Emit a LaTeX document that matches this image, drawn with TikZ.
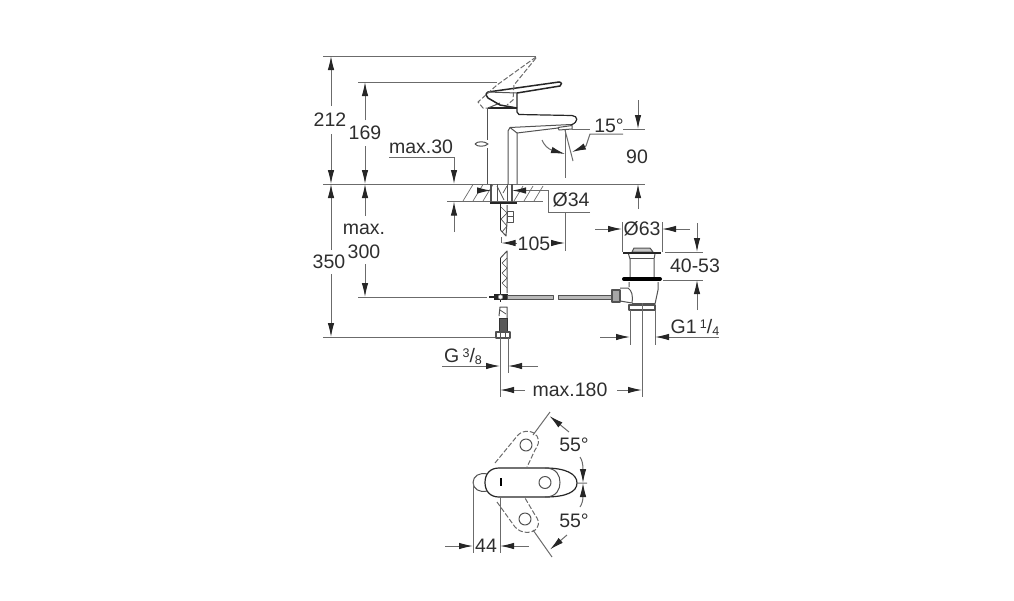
\documentclass[tikz,border=0pt]{standalone}
\usepackage{fontspec}
\setmainfont{Liberation Sans}
\usetikzlibrary{arrows.meta}
\definecolor{inkgray}{gray}{0.18}
\definecolor{dimgray}{gray}{0.42}
\definecolor{bodygray}{gray}{0.32}
\newcommand{\smallpart}[2]{\raisebox{#1}{\fontsize{12.5}{13}\selectfont #2}}
\begin{document}
\begin{tikzpicture}[x=1pt,y=-1pt,
    dim/.style={draw=dimgray,line width=1pt},
    tip/.style={dim,-{Latex[length=14pt,width=6.5pt,color=black!85]}},
    part/.style={draw=bodygray,line width=1pt,line join=round},
    heavy/.style={draw=black!85,line width=1.5pt},
    ghost/.style={draw=dimgray,line width=1pt,dash pattern=on 5pt off 2pt},
    label/.style={text=inkgray,font=\fontsize{19.5}{22}\selectfont,inner sep=0pt}]
  \useasboundingbox (0,0) rectangle (1014,600);

  % labels
  \node[label] (l212) at (330,120) {212};
  \node[label] (l169) at (365,133) {169};
  \node[label] (lmax30) at (421,147) {max.30};
  \node[label] (l15) at (609,126) {15°};
  \node[label] (l90) at (637,157) {90};
  \node[label] (l34) at (571,199.5) {Ø34};
  \node[label] (l105) at (534,244) {105};
  \node[label] (l63) at (642,229) {Ø63};
  \node[label] (lmax) at (364,229) {max.};
  \node[label] (l300) at (364,252) {300};
  \node[label] (l350) at (329,262) {350};
  \node[label] (l4053) at (695,266) {40-53};
  \node[label] (lg114) at (695,327) {G1\,\smallpart{5pt}{1}/\smallpart{-2pt}{4}};
  \node[label] (lg38) at (463,356) {G\,\smallpart{5pt}{3}/\smallpart{-2pt}{8}};
  \node[label] (lmax180) at (570,390) {max.180};
  \node[label] (l55a) at (574,445) {55°};
  \node[label] (l55b) at (574,521) {55°};
  \node[label] (l44) at (486,546) {44};

  % reference lines
  \draw[dim] (323,56) -- (536,56);
  \draw[dim] (358,82) -- (497,82);
  \draw[dim] (323,184) -- (645,184);
  \draw[dim] (447,201.5) -- (543,201.5);
  \draw[dim] (323,337) -- (497,337);
  \draw[dim] (358,297) -- (487,297);

  % heights on the left
  \draw[tip] (331,106) -- (331,56);
  \draw[tip] (331,134) -- (331,184);
  \draw[tip] (331,250) -- (331,184);
  \draw[tip] (331,274) -- (331,337);
  \draw[tip] (365,120) -- (365,82);
  \draw[tip] (365,146) -- (365,184);
  \draw[tip] (365,216) -- (365,184);
  \draw[tip] (365,264) -- (365,297);

  % max.30
  \draw[tip] (389,157) -- (454,157) -- (454,184);
  \draw[tip] (454,232) -- (454,201.5);

  % plate
  \foreach \hx in {463,473,483} \draw[dim,line width=0.7pt] (\hx,201) -- (\hx+10,184.5);
  \foreach \hx in {514,524,534} \draw[dim,line width=0.7pt] (\hx,201) -- (\hx+9,186);
  \draw[part] (497,184) -- (497,201) (507,184) -- (507,201);
  \draw[part,line width=0.7pt] (497,186) -- (504,200) (507,186) -- (503,193);
  \draw[part,line width=1.3pt] (491,184) -- (491,202) (512,184) -- (512,202);
  \draw[heavy,line width=2pt] (490,203) -- (517,203);

  % O34 and its arrows
  \draw[tip] (477,190.5) -- (491,190.5);
  \draw[tip] (590,212) -- (548,212) -- (548,190.5) -- (512,190.5);

  % stem, cut twice
  \draw[heavy] (500.5,204) -- (500.5,230);
  \draw[part] (500.5,230) -- (506,236) -- (507,222) -- (507,205);
  \draw[part,line width=0.7pt] (501,207) -- (507,213) -- (501,219) -- (507,226) -- (502,232);
  \draw[part] (507,211) rectangle (513,222);
  \draw[part] (507,216) -- (513,216);

  \draw[heavy] (500.5,258) -- (500.5,293);
  \draw[part] (500.5,258) -- (507,251) -- (507,293);
  \foreach \zy in {258,268,278} \draw[part,line width=0.7pt] (507,\zy) -- (502,\zy+5) -- (507,\zy+10);

  \draw[part] (499,316) -- (500,307) -- (507,307) -- (507,318);
  \draw[part,line width=0.7pt] (500,310) -- (506,314);
  \draw[draw=black!80,fill=black!65,line width=1pt] (499,318) rectangle (507,331);
  \draw[part,line width=1.3pt,fill=white] (496,332) rectangle (510,338);
  \draw[part] (500.5,332) -- (500.5,338) (505.5,332) -- (505.5,338);

  % tee and rod
  \draw[heavy,line width=2pt] (489,297) -- (494,297);
  \draw[draw=black!85,fill=black!85] (494,294.5) rectangle (507,299.5);
  \draw[heavy] (500.5,292) -- (500.5,302);
  \draw[draw=black!40,fill=white,line width=0.5pt] (500.5,297) circle (2.2);
  \draw[part,fill=gray!55] (507,295) rectangle (553,299);
  \draw[part,fill=gray!55] (558,295) rectangle (612,299);

  % tap body
  \draw[part] (487,108) -- (487,140) (487,148) -- (487,184);
  \draw[part] (508,184) -- (508,131) -- (510,127.5) -- (571,124.5);
  \draw[part] (517,184) -- (517,133) -- (510,127.5);
  \draw[part] (517,133) -- (558,128);
  \draw[heavy,line width=1.2pt] (517,93) -- (517,112) -- (519,114.5) -- (572,115.5)
    .. controls (578,116) and (579,122) .. (571,125);
  \draw[heavy] (488,108) -- (517,108);
  \draw[part] (488,108) -- (500,103);
  \draw[part] (558,127.5) -- (572,125.5) -- (572,129) -- (559,130) -- cycle;
  \draw[part] (475,144) .. controls (477,141) and (485,141) .. (488,144)
    .. controls (485,147) and (477,147) .. (475,144);

  % lever
  \draw[heavy] (488,92) -- (559,82) .. controls (562,82) and (562,85) .. (560,86) -- (517,93);
  \draw[heavy] (488,92) .. controls (485,94) and (486,96) .. (488,98) -- (500,105) -- (517,108);
  \draw[part] (488,92) -- (517,93);

  % lever raised
  \draw[ghost] (536,57) -- (497,85) -- (478,102) -- (483,108) -- (488,108);
  \draw[ghost] (536,58) -- (514,85) -- (513,100) -- (507,105);

  % 15 deg
  \draw[dim] (572,129) -- (590,129) (623,129) -- (645,129);
  \draw[dim] (565,130) -- (565,178);
  \draw[dim] (565,130) -- (573,161);
  \draw[tip] (623,134) -- (590,134) -- (586,146) -- (572,152);
  \draw[tip] (542,140) .. controls (544,145) and (548,149) .. (565,154);

  % 90
  \draw[tip] (638,100) -- (638,129);
  \draw[tip] (638,209) -- (638,184);

  % O34 leader down to 105
  \draw[dim] (565,213) -- (565,251);
  \draw[tip] (551,243) -- (565,243);
  \draw[tip] (517,243) -- (501.5,243);
  \draw[dim] (501.5,237) -- (501.5,243);

  % waste, top
  \draw[part,fill=gray!45] (632,252) -- (634,248) -- (650,248) -- (653,252) -- cycle;
  \draw[heavy] (623,253) -- (661,253);
  \draw[part] (628.5,254) -- (630,259) -- (630,277) (655,254) -- (654,259) -- (654,277);
  \draw[part,line width=0.7pt] (630,258) -- (654,258);
  \draw[draw=black,line width=4pt,line cap=round] (624,279) -- (660,279);

  % waste, body
  \draw[part] (629,282) -- (629,287) (658,282) -- (658,290) -- (655,304);
  \draw[part] (620,288) -- (628,288) .. controls (632,291) and (633,295) .. (632,303) -- (620,301);
  \draw[part,line width=1.3pt] (629,305) rectangle (655,310);
  \draw[part] (632,303) -- (655,303);
  \draw[part,fill=gray!70,line width=1.2pt] (612,290) rectangle (620,302);

  % O63
  \draw[dim] (622,222) -- (622,252) (662,222) -- (662,252);
  \draw[tip] (595,229) -- (622,229);
  \draw[tip] (690,229) -- (662,229);

  % 40-53
  \draw[dim] (665,252) -- (703,252) (663,280) -- (703,280);
  \draw[tip] (697,223) -- (697,252);
  \draw[tip] (697,310) -- (697,280);

  % G1 1/4
  \draw[dim] (630,310) -- (630,345) (655,310) -- (655,345);
  \draw[tip] (600,337) -- (630,337);
  \draw[tip] (719,337) -- (655,337);

  % G 3/8
  \draw[dim] (500,338) -- (500,374) (508,338) -- (508,373);
  \draw[tip] (442,366) -- (500,366);
  \draw[tip] (538,366) -- (508,366);

  % max.180
  \draw[dim] (500,374) -- (500,397) (642,303) -- (642,397);
  \draw[tip] (525,390) -- (500,390);
  \draw[tip] (617,390) -- (642,390);

  % plan view
  \draw[part] (487,474) .. controls (480,472) and (473,476) .. (473,482.5)
    .. controls (473,489) and (480,493) .. (487,491);
  \draw[heavy,line width=1.2pt] (499,468) -- (545,468) .. controls (566,468) and (577,474) .. (577,483)
    .. controls (577,492) and (566,497) .. (545,497) -- (499,497);
  \draw[heavy,line width=1.2pt] (499,468) .. controls (490,468) and (485,474) .. (485,482.5)
    .. controls (485,491) and (490,497) .. (499,497);
  \draw[part] (545,468) .. controls (557,468) and (560,476) .. (560,482.5)
    .. controls (560,489) and (557,497) .. (545,497);
  \draw[part] (545,482.5) circle (6);
  \draw[draw=black,line width=2pt] (501,478) -- (501,486);

  % lever swung, both ways
  \draw[ghost] (495,463) -- (518,435) .. controls (524,429) and (534,431) .. (537,436)
    .. controls (540,441) and (538,446) .. (535,450) -- (527,467);
  \draw[part] (526,445) circle (6);
  \draw[ghost] (497,502) -- (515,527) .. controls (521,534) and (533,534) .. (537,528)
    .. controls (540,523) and (538,519) .. (535,515) -- (525,498);
  \draw[part] (525,519) circle (6);

  % 55 deg
  \draw[dim] (533,435) -- (550,412) (533,530) -- (552,557) (577,483) -- (587,483);
  \draw[tip] (569,432) -- (549.5,416);
  \draw[tip] (580,457) .. controls (582,460) and (583,464) .. (583,483);
  \draw[tip] (580,507) .. controls (582,504) and (583,500) .. (583,483);
  \draw[tip] (567,535) -- (550,549.5);

  % 44
  \draw[dim] (473,482) -- (473,553) (500,497) -- (500,553);
  \draw[tip] (445,546) -- (473,546);
  \draw[tip] (529,546) -- (500,546);
\end{tikzpicture}
\end{document}
